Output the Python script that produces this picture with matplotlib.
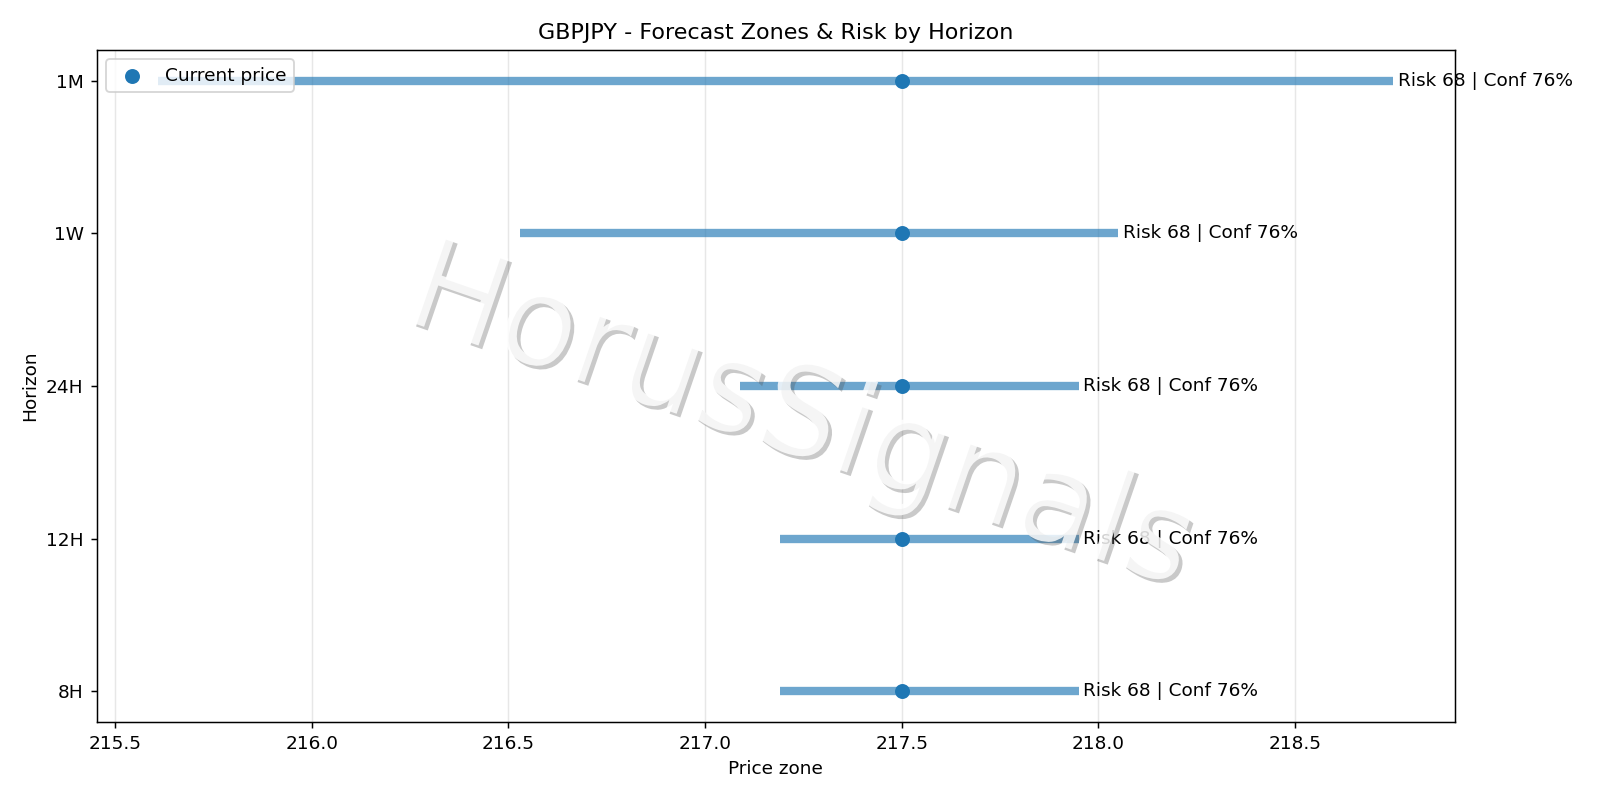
import matplotlib
matplotlib.use('Agg')
import matplotlib.pyplot as plt
import matplotlib.patheffects as pe

# ---- data ----
horizons = ['8H', '12H', '24H', '1W', '1M']
zone_low = [217.19, 217.19, 217.09, 216.53, 215.61]
zone_high = [217.95, 217.95, 217.95, 218.05, 218.75]
current_price = 217.5
risk = [68, 68, 68, 68, 68]
conf = [76, 76, 76, 76, 76]

title = 'GBPJPY - Forecast Zones & Risk by Horizon'
watermark = 'HorusSignals'

fig, ax = plt.subplots(figsize=(12, 6))
ypos = list(range(len(horizons)))

ax.hlines(ypos, zone_low, zone_high, linewidth=4.5, color='C0', alpha=0.65)
ax.scatter([current_price] * len(ypos), ypos, s=50, color='C0', zorder=3,
           label='Current price')
for yi, hi, r, c in zip(ypos, zone_high, risk, conf):
    ax.text(hi + 0.012, yi, f'Risk {r} | Conf {c}%', va='center', ha='left',
            fontsize=10)

ax.set_yticks(ypos)
ax.set_yticklabels(horizons)
ax.set_xlabel('Price zone')
ax.set_ylabel('Horizon')
ax.set_title(title)
ax.grid(axis='x', alpha=0.3)
ax.legend(loc='upper left')

fig.subplots_adjust(left=0.0604, right=0.9094, bottom=0.0975, top=0.9375)

fig.text(0.5, 0.476, watermark, fontsize=68, rotation=-19, ha='center',
         va='center', color='white', alpha=0.82,
         path_effects=[pe.withSimplePatchShadow(offset=(2, -2), alpha=0.3)])

fig.savefig('out.png', dpi=400 / 3)
